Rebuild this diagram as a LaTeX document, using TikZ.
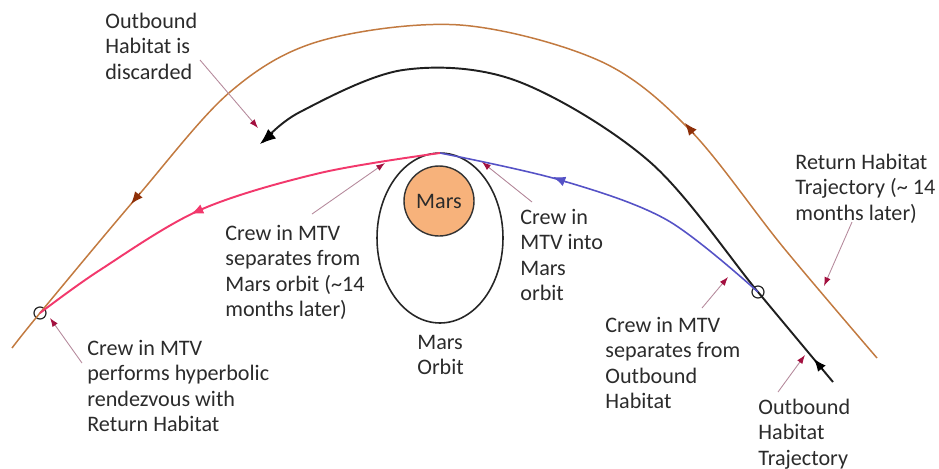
\documentclass[tikz,border=0pt]{standalone}
\usepackage{fontspec}
\setmainfont{Carlito}
\usetikzlibrary{arrows.meta,shapes.geometric}
\definecolor{trajbrown}{HTML}{C27A40}
\definecolor{tipbrown}{HTML}{8E2F08}
\definecolor{crewpink}{HTML}{F2386C}
\definecolor{crewblue}{HTML}{5552C6}
\definecolor{marsfill}{HTML}{F7B27B}
\definecolor{noteline}{HTML}{B58A9C}
\definecolor{notetip}{HTML}{A3103F}
\definecolor{txtgray}{HTML}{2B2B2B}

\begin{document}
\begin{tikzpicture}[x=0.02cm, y=-0.02cm,
    lbl/.style={anchor=base west, align=left, inner sep=0pt, text=txtgray,
      font=\fontsize{12.6}{14.5}\selectfont},
    note/.style={draw=noteline, line width=0.5pt,
      -{Latex[length=5pt,width=3.6pt,color=notetip]}},
    dirtip/.style={line width=0.6pt, -{Latex[length=7pt,width=5.6pt]}},
    hop/.style={draw=black!85, circle, inner sep=0pt, minimum size=0.24cm, line width=0.7pt}]
        \useasboundingbox (0,0) rectangle (939,468);

        % Марс и орбита
        \node[ellipse, draw=black!85, line width=0.9pt, minimum width=2.52cm,
              minimum height=3.4cm, inner sep=0pt] (orb) at (440,238) {};
        \node[circle, draw=black!80, fill=marsfill, line width=0.8pt, minimum size=1.4cm,
              inner sep=0pt, text=txtgray, font=\fontsize{12.6}{14.5}\selectfont] (mars) at (439,201) {Mars};

        % Точки встречи
        \node[hop] (c1) at (40,313) {};
        \node[hop] (c2) at (758,292) {};

        % Траектории
        \draw[trajbrown, line width=0.85pt]
            plot[smooth, tension=0.55] coordinates {(877,358) (783,247) (690,130) (600,61) (460,25)
            (320,41) (230,92) (137,197) (40,313) (12,348)};
        \draw[black!88, line width=1.1pt]
            plot[smooth, tension=0.55] coordinates {(833,382) (758,292) (650,162) (517,81) (403,70)
            (300,112) (263,142)};
        \draw[crewblue, line width=0.9pt]
            plot[smooth, tension=0.55] coordinates {(758,292) (667,220) (560,180) (440,153)};
        \draw[crewpink, line width=1.1pt]
            plot[smooth, tension=0.55] coordinates {(440,153) (320,173) (200,210) (100,270) (40,313)};

        % Направление движения
        \draw[dirtip, tipbrown] (694,134) -- (685,123);
        \draw[dirtip, tipbrown] (140,193) -- (131,204);
        \draw[dirtip, black] (823,370) -- (814,359);
        \draw[black, line width=0.6pt, -{Latex[length=9pt,width=7pt]}] (273,133) -- (260,144);
        \draw[dirtip, crewblue] (566,182) -- (553,177);
        \draw[dirtip, crewpink] (203.5,208.5) -- (191,214);

        % Подписи (base = последняя строка)
        \node[lbl] (discard) at (105,79)    {Outbound\\Habitat is\\discarded};
        \node[lbl] (sepmars) at (225,316.5) {Crew in MTV\\separates from\\Mars orbit (\textasciitilde14\\months later)};
        \node[lbl] (into)    at (520,300.5) {Crew in\\MTV into\\Mars\\orbit};
        \node[lbl] (retlbl)  at (795,220)   {Return Habitat\\Trajectory (\textasciitilde{} 14\\months later)};
        \node[lbl] (sepout)  at (605,408.5) {Crew in MTV\\separates from\\Outbound\\Habitat};
        \node[lbl] (outlbl)  at (758,465)   {Outbound\\Habitat\\Trajectory};
        \node[lbl] (rendez)  at (87,431.5)  {Crew in MTV\\performs hyperbolic\\rendezvous with\\Return Habitat};
        \node[lbl] (orblbl)  at (417,374.5) {Mars\\Orbit};

        % Стрелки-указатели
        \coordinate (n1a) at (200,60);  \coordinate (n1b) at (258,128);
        \coordinate (n2a) at (312,214); \coordinate (n2b) at (385,163);
        \coordinate (n3a) at (532,202); \coordinate (n3b) at (482,162);
        \coordinate (n4a) at (852,222); \coordinate (n4b) at (824,286);
        \coordinate (n5a) at (702,308); \coordinate (n5b) at (728,277);
        \coordinate (n6a) at (778,392); \coordinate (n6b) at (805,355);
        \coordinate (n7a) at (82,363);  \coordinate (n7b) at (50,318);
        \foreach \n in {1,...,7} \draw[note] (n\n a) -- (n\n b);
    \end{tikzpicture}
\end{document}
